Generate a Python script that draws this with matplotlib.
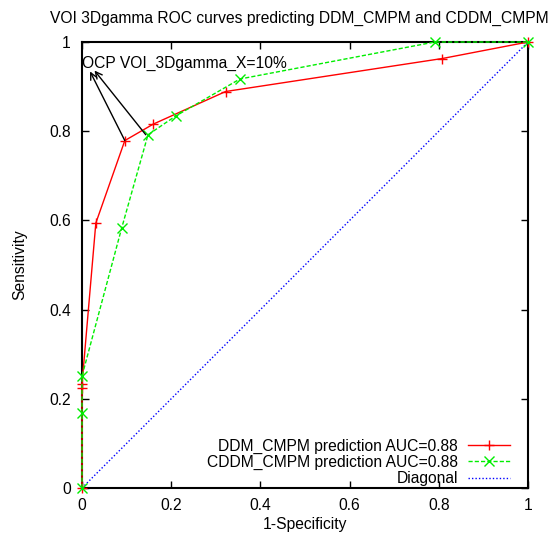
import numpy as np
import matplotlib
matplotlib.use('Agg')
import matplotlib.pyplot as plt

plt.rcParams['font.family'] = ['Liberation Sans', 'DejaVu Sans']

# ROC points
ddm_fpr = [0.0, 0.0, 0.0, 0.031, 0.096, 0.160, 0.322, 0.808, 1.0]
ddm_tpr = [0.0, 0.224, 0.233, 0.594, 0.779, 0.816, 0.889, 0.963, 1.0]
cddm_fpr = [0.0, 0.0, 0.0, 0.089, 0.148, 0.210, 0.354, 0.791, 1.0]
cddm_tpr = [0.0, 0.168, 0.251, 0.583, 0.792, 0.834, 0.917, 1.0, 1.0]
diag = [0.0, 1.0]

labels = ['DDM_CMPM prediction AUC=0.88',
          'CDDM_CMPM prediction AUC=0.88',
          'Diagonal']
ticks = [0, 0.2, 0.4, 0.6, 0.8, 1]
tick_labels = ['0', '0.2', '0.4', '0.6', '0.8', '1']

fs = 11.25

fig = plt.figure(figsize=(5.56, 5.37), dpi=100)
ax = fig.add_axes([82 / 556, 49 / 537, 446 / 556, 446 / 537])

ax.plot(ddm_fpr, ddm_tpr, color='#ff0000', lw=1, marker='+', ms=7.5,
        mew=1, label=labels[0], clip_on=False, zorder=3)
ax.plot(cddm_fpr, cddm_tpr, color='#00ee00', lw=1, ls=(0, (3, 1.5)),
        marker='x', ms=7, mew=1, label=labels[1], clip_on=False, zorder=3)
ax.plot(diag, diag, color='#0000ff', lw=1, ls=(0, (1, 1.5)), label=labels[2])

# annotation arrows to the operating points
ax.text(0.0, 0.951, 'OCP VOI_3Dgamma_X=10%', fontsize=fs, va='center',
        ha='left')
ax.annotate('', xy=(0.018, 0.934), xytext=(ddm_fpr[4], ddm_tpr[4]),
            arrowprops=dict(arrowstyle='->', color='black', lw=1,
                            mutation_scale=12, shrinkA=0, shrinkB=0))
ax.annotate('', xy=(0.028, 0.936), xytext=(cddm_fpr[4] - 0.005, cddm_tpr[4]),
            arrowprops=dict(arrowstyle='->', color='black', lw=1,
                            mutation_scale=12, shrinkA=0, shrinkB=0))

ax.set_xlim(0, 1)
ax.set_ylim(0, 1)
ax.set_xticks(ticks)
ax.set_xticklabels(tick_labels)
ax.set_yticks(ticks)
ax.set_yticklabels(tick_labels)
ax.tick_params(direction='in', top=True, right=True, length=5, width=1,
               labelsize=fs)
ax.tick_params(axis='x', pad=7)
ax.tick_params(axis='y', pad=8)
for s in ax.spines.values():
    s.set_linewidth(1.5)

ax.set_xlabel('1-Specificity', fontsize=fs, labelpad=3)
ax.set_ylabel('Sensitivity', fontsize=fs, labelpad=16)

fig.text(50 / 556, 1 - 18 / 537, 'VOI 3Dgamma ROC curves predicting DDM_CMPM and CDDM_CMPM',
         fontsize=fs, ha='left', va='center')

ax.legend(loc='lower right', bbox_to_anchor=(0.96, 0.004), frameon=False,
          markerfirst=False, fontsize=fs, handlelength=2.7, borderaxespad=0,
          borderpad=0, labelspacing=0.08, handletextpad=0.65,
          alignment='right')
for t in ax.get_legend().get_texts():
    t.set_ha('right')

fig.savefig('out.png', dpi=100)
